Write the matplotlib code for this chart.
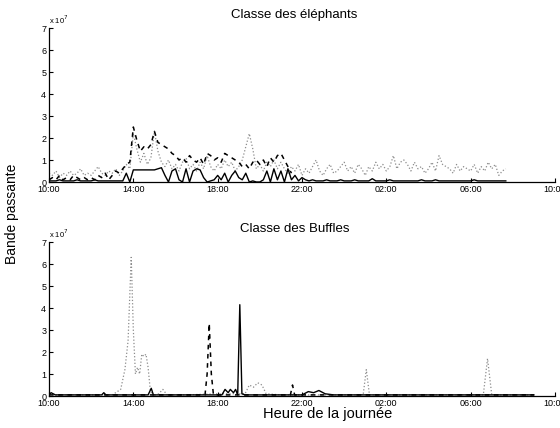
import numpy as np
import matplotlib
matplotlib.use("Agg")
import matplotlib.pyplot as plt

plt.rcParams['font.family'] = ['Liberation Sans', 'DejaVu Sans']

# x positions are hours elapsed since 10:00
tick_pos = [0, 4, 8, 12, 16, 20, 24]
tick_labels = ['10:00', '14:00', '18:00', '22:00', '02:00', '06:00', '10:00']
ytick_vals = [0, 1, 2, 3, 4, 5, 6, 7]

# ---- Classe des éléphants (values in units of 1e7), 10-minute samples
eleph_dotted = [
    0.4, 0.3, 0.5, 0.2, 0.4, 0.3,
    0.5, 0.3, 0.4, 0.6, 0.3, 0.4,
    0.3, 0.5, 0.7, 0.4, 0.3, 0.5,
    0.4, 0.6, 0.3, 0.5, 0.8, 0.6,
    2.2, 1.5, 0.9, 1.3, 0.8, 1.1,
    2.3, 1.4, 0.9, 0.7, 1.0, 0.6,
    0.8, 0.5, 0.9, 1.1, 0.6, 0.8,
    0.5, 0.9, 0.6, 1.2, 0.7, 0.5,
    0.8, 0.6, 1.0, 0.7, 0.9, 0.5,
    0.7, 1.0, 1.6, 2.2, 1.5, 0.6,
    0.8, 0.5, 0.9, 0.7, 1.0, 0.6,
    0.9, 0.6, 0.4, 0.7, 0.5, 0.8,
    0.3, 0.6, 0.4, 0.7, 1.0, 0.5,
    0.3, 0.6, 0.8, 0.4, 0.5, 0.7,
    0.9, 0.5, 0.7, 0.4, 0.8, 0.6,
    0.3, 0.7, 0.5, 0.9, 0.6, 0.8,
    0.5, 0.7, 1.2, 0.6, 0.9, 1.0,
    0.8, 0.5, 0.9, 0.6, 0.7, 0.4,
    0.6, 0.9, 0.5, 1.2, 0.8, 0.7,
    0.6, 0.4, 0.8, 0.5, 0.7, 0.6,
    0.5, 0.8, 0.4, 0.7, 0.5, 0.9,
    0.6, 0.8, 0.3, 0.5, 0.6,
]
eleph_dashed = [
    0.1, 0.2, 0.1, 0.3, 0.1, 0.2,
    0.1, 0.3, 0.2, 0.1, 0.2, 0.1,
    0.2, 0.1, 0.3, 0.2, 0.4, 0.1,
    0.3, 0.5, 0.4, 0.6, 0.8, 0.9,
    2.5, 1.9, 1.4, 1.6, 1.5, 1.7,
    2.3, 1.8, 1.7, 1.6, 1.5, 1.3,
    1.2, 1.0, 1.1, 0.9, 1.2, 1.0,
    0.9, 1.1, 0.8, 1.3, 1.2, 1.0,
    1.1, 0.9, 1.3, 1.2, 1.1, 1.0,
    0.9, 0.7, 0.8, 0.6, 0.9, 1.0,
    0.8, 1.0, 0.7, 1.1, 0.9, 1.2,
    1.3, 1.0, 0.7, 0.4,
]
eleph_solid = [
    0.05, 0.05, 0.05, 0.1, 0.05, 0.05,
    0.05, 0.05, 0.1, 0.05, 0.05, 0.05,
    0.05, 0.1, 0.05, 0.05, 0.05, 0.05,
    0.05, 0.05, 0.05, 0.05, 0.4, 0.0,
    0.55, 0.55, 0.55, 0.55, 0.55, 0.55,
    0.55, 0.6, 0.65, 0.3, 0.0, 0.5,
    0.6, 0.1, 0.0, 0.6, 0.0, 0.5,
    0.6, 0.55, 0.2, 0.0, 0.05, 0.1,
    0.3, 0.1, 0.4, 0.0, 0.3, 0.5,
    0.2, 0.1, 0.4, 0.0, 0.05, 0.0,
    0.0, 0.1, 0.5, 0.0, 0.6, 0.1,
    0.5, 0.0, 0.6, 0.1, 0.3, 0.05,
    0.2, 0.1, 0.05, 0.1, 0.05, 0.05,
    0.05, 0.1, 0.05, 0.05, 0.05, 0.1,
    0.05, 0.05, 0.05, 0.1, 0.05, 0.05,
    0.05, 0.05, 0.15, 0.05, 0.05, 0.05,
    0.05, 0.1, 0.05, 0.05, 0.05, 0.05,
    0.05, 0.05, 0.05, 0.05, 0.1, 0.05,
    0.05, 0.05, 0.1, 0.05, 0.05, 0.05,
    0.05, 0.05, 0.05, 0.05, 0.05, 0.05,
    0.05, 0.1, 0.05, 0.05, 0.05, 0.05,
    0.05, 0.05, 0.05, 0.05, 0.05,
]

# ---- Classe des Buffles (time in hours since 10:00, value in 1e7)
buff_dotted_t = [0, 1.0, 2.0, 3.0, 3.4, 3.6, 3.75, 3.9, 4.0, 4.1, 4.2, 4.3, 4.4,
                 4.5, 4.6, 4.7, 4.8, 4.9, 5.2, 5.4, 5.6, 6.5, 8.0, 9.3, 9.5,
                 9.7, 9.9, 10.1, 10.3, 11.0, 13.0, 14.9, 15.05, 15.2, 16.0,
                 18.0, 20.6, 20.8, 21.0, 22.0, 23.0]
buff_dotted_v = [0.05, 0.05, 0.05, 0.05, 0.3, 1.2, 2.5, 6.3, 3.0, 1.0, 1.3, 1.0, 1.9,
                 1.8, 1.9, 1.3, 0.3, 0.0, 0.1, 0.3, 0.05, 0.05, 0.1, 0.1, 0.5,
                 0.4, 0.6, 0.5, 0.1, 0.05, 0.05, 0.05, 1.2, 0.05, 0.05,
                 0.05, 0.05, 1.7, 0.05, 0.05, 0.05]
buff_dashed_t = [0, 3.0, 7.4, 7.5, 7.6, 7.7, 7.8, 9.0, 11.45, 11.55, 11.65, 13.0, 23.0]
buff_dashed_v = [0.05, 0.05, 0.05, 1.0, 3.3, 1.0, 0.05, 0.05, 0.05, 0.5, 0.05, 0.05, 0.05]
buff_solid_t = [0, 0.1, 0.3, 1.0, 2.0, 2.5, 2.6, 2.7, 3.0, 4.7, 4.85, 4.95, 5.1,
                 6.0, 7.5, 8.2, 8.35, 8.5, 8.6, 8.75, 8.85, 8.95, 9.05, 9.15,
                 9.3, 10.0, 11.0, 12.0, 12.3, 12.55, 12.8, 13.1, 13.5, 14.0,
                 15.0, 17.0, 20.0, 22.0, 23.0]
buff_solid_v = [0.05, 0.15, 0.05, 0.05, 0.05, 0.05, 0.15, 0.05, 0.05, 0.05, 0.35, 0.05, 0.05,
                0.05, 0.05, 0.05, 0.3, 0.15, 0.3, 0.15, 0.3, 0.05, 4.15, 0.1,
                0.05, 0.05, 0.05, 0.05, 0.2, 0.15, 0.25, 0.1, 0.05, 0.05,
                0.05, 0.05, 0.05, 0.05, 0.05]

step_h = 1.0 / 6.0

fig = plt.figure(figsize=(5.6, 4.28), dpi=100)
ax1 = fig.add_axes([49 / 560, 1 - 182 / 428, 506 / 560, 154 / 428])
ax2 = fig.add_axes([49 / 560, 1 - 396 / 428, 506 / 560, 154 / 428])

gray = '#8c8c8c'

t_dot = np.arange(len(eleph_dotted)) * step_h
t_dash = np.arange(len(eleph_dashed)) * step_h
t_sol = np.arange(len(eleph_solid)) * step_h
ax1.plot(t_dot, eleph_dotted, color=gray, ls=':', lw=0.9)
ax1.plot(t_dash, eleph_dashed, color='black', ls='--', lw=1.1, dashes=(3, 3))
ax1.plot(t_sol, eleph_solid, color='black', ls='-', lw=1.0)

ax2.plot(buff_dotted_t, buff_dotted_v, color=gray, ls=':', lw=0.9)
ax2.plot(buff_dashed_t, buff_dashed_v, color='black', ls='--', lw=1.1, dashes=(3, 3))
ax2.plot(buff_solid_t, buff_solid_v, color='black', ls='-', lw=1.0)

for ax, title in ((ax1, 'Classe des éléphants'), (ax2, 'Classe des Buffles')):
    ax.set_xlim(0, 24)
    ax.set_ylim(0, 7)
    ax.spines['top'].set_visible(False)
    ax.spines['right'].set_visible(False)
    ax.spines['left'].set_linewidth(0.9)
    ax.spines['bottom'].set_linewidth(0.9)
    ax.set_xticks(tick_pos)
    ax.set_xticklabels(tick_labels)
    ax.set_yticks(ytick_vals)
    ax.tick_params(axis='both', direction='in', labelsize=6.5, length=3, width=0.8, pad=2)
    ax.set_title(title, fontsize=9.5, x=0.485, pad=7)
    ax.text(0.0, 1.015, r'x 10$^{7}$', transform=ax.transAxes, fontsize=5.5,
            ha='left', va='bottom')
    ax.patch.set_visible(False)

fig.text(0.022, 0.5, 'Bande passante', rotation=90, ha='center', va='center', fontsize=10)
fig.text(0.585, 1 - 414 / 428, 'Heure de la journée', ha='center', va='center', fontsize=10.5)

fig.savefig('out.png', dpi=100)
